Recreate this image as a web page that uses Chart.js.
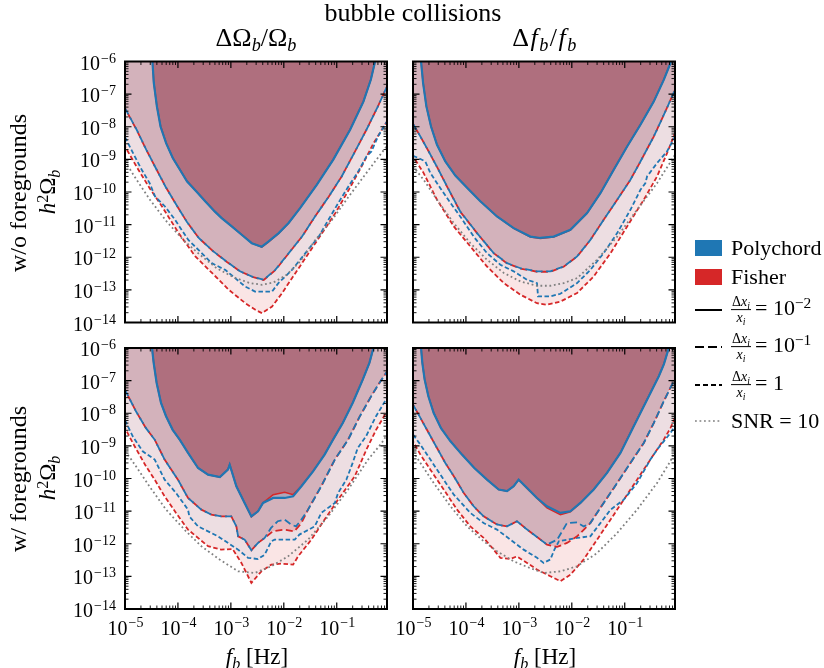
<!DOCTYPE html>
<html>
<head>
<meta charset="utf-8">
<script src="https://cdn.jsdelivr.net/npm/chart.js@4.4.1/dist/chart.umd.min.js"></script>
<style>
html,body{margin:0;padding:0;background:#fff;}
#fig{position:relative;width:824px;height:668px;overflow:hidden;background:#fff;font-family:"Liberation Serif","DejaVu Serif",serif;color:#000;}
#fig canvas{position:absolute;left:0;top:0;}
.lbl{position:absolute;white-space:nowrap;line-height:1;transform:translate(-50%,-50%);}
.rot{transform:translate(-50%,-50%) rotate(-90deg);}
.lft{position:absolute;white-space:nowrap;line-height:1;transform:translateY(-50%);}
.sb{font-size:70%;position:relative;top:0.3em;}
.sp{font-size:70%;position:relative;top:-0.45em;}
.frac{display:inline-block;vertical-align:middle;text-align:center;font-size:14px;line-height:1.1;margin-right:4px;}
.frac .num,.frac .den{display:block;padding:0 1px;}
.frac .den{border-top:1px solid #000;}
.patch{position:absolute;width:27px;height:16px;}
</style>
</head>
<body>
<div id="fig">
  <div class="lbl" style="left:413px;top:13px;font-size:26px">bubble collisions</div>
  <div class="lbl" style="left:256px;top:38px;font-size:26px">ΔΩ<span class="sb"><i>b</i></span>/Ω<span class="sb"><i>b</i></span></div>
  <div class="lbl" style="left:545px;top:38px;font-size:26px;letter-spacing:1.5px">Δ<i>f</i><span class="sb"><i>b</i></span>/<i>f</i><span class="sb"><i>b</i></span></div>
  <div class="lbl rot" style="left:18px;top:193px;font-size:24px">w/o foregrounds</div>
  <div class="lbl rot" style="left:47px;top:192px;font-size:23px"><i>h</i><span class="sp">2</span>Ω<span class="sb"><i>b</i></span></div>
  <div class="lbl rot" style="left:18px;top:479px;font-size:24px">w/ foregrounds</div>
  <div class="lbl rot" style="left:47px;top:478px;font-size:23px"><i>h</i><span class="sp">2</span>Ω<span class="sb"><i>b</i></span></div>
  <div class="lbl" style="left:257px;top:656px;font-size:23px"><i>f</i><span class="sb"><i>b</i></span> [Hz]</div>
  <div class="lbl" style="left:545px;top:656px;font-size:23px"><i>f</i><span class="sb"><i>b</i></span> [Hz]</div>

  <div class="patch" style="left:695px;top:240px;background:#1f77b4"></div>
  <div class="lft" style="left:731px;top:248px;font-size:22px">Polychord</div>
  <div class="patch" style="left:695px;top:269px;background:#d62728"></div>
  <div class="lft" style="left:731px;top:277px;font-size:22px">Fisher</div>
  <svg style="position:absolute;left:690px;top:300px" width="40" height="130">
    <line x1="5" y1="10" x2="32" y2="10" stroke="#000" stroke-width="2"/>
    <line x1="5" y1="47" x2="32" y2="47" stroke="#000" stroke-width="2" stroke-dasharray="9,4"/>
    <line x1="5" y1="85" x2="32" y2="85" stroke="#000" stroke-width="2" stroke-dasharray="5,3"/>
    <line x1="5" y1="121" x2="32" y2="121" stroke="#808080" stroke-width="1.7" stroke-dasharray="1.8,2.7"/>
  </svg>
  <div class="lft" style="left:731px;top:310px;font-size:22px"><span class="frac"><span class="num">Δ<i>x</i><span class="sb"><i>i</i></span></span><span class="den"><i>x</i><span class="sb"><i>i</i></span></span></span>= 10<span class="sp">−2</span></div>
  <div class="lft" style="left:731px;top:347px;font-size:22px"><span class="frac"><span class="num">Δ<i>x</i><span class="sb"><i>i</i></span></span><span class="den"><i>x</i><span class="sb"><i>i</i></span></span></span>= 10<span class="sp">−1</span></div>
  <div class="lft" style="left:731px;top:385px;font-size:22px"><span class="frac"><span class="num">Δ<i>x</i><span class="sb"><i>i</i></span></span><span class="den"><i>x</i><span class="sb"><i>i</i></span></span></span>= 1</div>
  <div class="lft" style="left:731px;top:421px;font-size:22px">SNR = 10</div>
</div>
<script>
// ---------------- axis / tick values ----------------
const xTickExps = [-5, -4, -3, -2, -1];
const yTickExps = [-14, -13, -12, -11, -10, -9, -8, -7, -6];
const xRange = [1e-5, 0.89];
const yRange = [1e-14, 1e-6];

// ---------------- top-left: w/o foregrounds, dOmega/Omega ----------------
const tlPoly3 = [[3.3e-5,1e-6],[3.5e-5,2.2e-7],[4.0e-5,4.2e-8],[4.7e-5,1.0e-8],[6.0e-5,3.1e-9],[8.0e-5,1.1e-9],[1.09e-4,4.8e-10],[1.49e-4,2.1e-10],[2.23e-4,1.04e-10],[3.3e-4,5.1e-11],[5.0e-4,2.5e-11],[6.7e-4,1.58e-11],[1.04e-3,8.8e-12],[1.6e-3,4.9e-12],[2.48e-3,2.7e-12],[3.83e-3,2.1e-12],[5.1e-3,3.0e-12],[8.0e-3,5.5e-12],[1.23e-2,1.12e-11],[2.03e-2,3.2e-11],[4.19e-2,1.66e-10],[8.6e-2,9.8e-10],[0.179,8.1e-9],[0.319,5.9e-8],[0.44,2.75e-7],[0.53,1e-6]];
const tlFish3 = [[3.3e-5,1e-6],[3.5e-5,2.3e-7],[4.0e-5,4.4e-8],[4.7e-5,1.05e-8],[6.0e-5,3.2e-9],[8.0e-5,1.1e-9],[1.09e-4,4.9e-10],[1.49e-4,2.15e-10],[2.23e-4,1.05e-10],[3.3e-4,5.2e-11],[5.0e-4,2.5e-11],[6.7e-4,1.6e-11],[1.04e-3,8.9e-12],[1.6e-3,4.9e-12],[2.48e-3,2.7e-12],[3.83e-3,2.05e-12],[5.1e-3,2.9e-12],[8.0e-3,5.4e-12],[1.23e-2,1.1e-11],[2.03e-2,3.2e-11],[4.19e-2,1.68e-10],[8.6e-2,1.0e-9],[0.179,8.3e-9],[0.319,6.0e-8],[0.44,2.8e-7],[0.53,1e-6]];
const tlPoly2 = [[1e-5,3.7e-8],[1.66e-5,8.1e-9],[2.53e-5,1.96e-9],[3.96e-5,4.8e-10],[5.8e-5,1.48e-10],[8.9e-5,4.6e-11],[1.46e-4,1.25e-11],[2.47e-4,3.9e-12],[4.67e-4,1.51e-12],[8.3e-4,7.4e-13],[1.49e-3,3.7e-13],[2.66e-3,2.46e-13],[4.17e-3,2.04e-13],[6.9e-3,4.1e-13],[1.24e-2,1.34e-12],[2.21e-2,4.3e-12],[3.89e-2,1.78e-11],[7.1e-2,7.3e-11],[0.124,3.0e-10],[0.222,1.75e-9],[0.364,8.1e-9],[0.60,4.2e-8],[0.89,1.71e-7]];
const tlFish2 = [[1e-5,3.7e-8],[1.66e-5,8.0e-9],[2.53e-5,1.95e-9],[3.96e-5,4.8e-10],[5.8e-5,1.48e-10],[8.9e-5,4.6e-11],[1.46e-4,1.25e-11],[2.47e-4,3.9e-12],[4.67e-4,1.5e-12],[8.3e-4,7.3e-13],[1.49e-3,3.7e-13],[2.66e-3,2.45e-13],[4.17e-3,2.0e-13],[6.9e-3,4.0e-13],[1.24e-2,1.33e-12],[2.21e-2,4.3e-12],[3.89e-2,1.78e-11],[7.1e-2,7.3e-11],[0.124,3.0e-10],[0.222,1.75e-9],[0.364,8.1e-9],[0.60,4.2e-8],[0.89,1.71e-7]];
const tlPoly1 = [[1e-5,4.8e-9],[1.42e-5,1.55e-9],[2.07e-5,4.8e-10],[2.92e-5,1.87e-10],[3.69e-5,7.3e-11],[5.7e-5,3.6e-11],[8.8e-5,1.41e-11],[1.57e-4,3.4e-12],[2.81e-4,1.34e-12],[4.35e-4,6.6e-13],[7.8e-4,4.1e-13],[1.2e-3,2.3e-13],[1.85e-3,1.27e-13],[2.86e-3,8.9e-14],[6.0e-3,8.9e-14],[7.9e-3,1.61e-13],[1.43e-2,4.1e-13],[2.56e-2,1.34e-12],[4.57e-2,4.3e-12],[6.97e-2,1.41e-11],[0.107,4.6e-11],[0.166,1.48e-10],[0.256,4.3e-10],[0.364,1.23e-9],[0.452,1.75e-9],[0.60,5.0e-9],[0.89,1.45e-8]];
const tlFish1 = [[1e-5,2.48e-9],[1.79e-5,4.8e-10],[2.92e-5,1.31e-10],[5.0e-5,3.6e-11],[1.03e-4,5.5e-12],[2.13e-4,1.06e-12],[4.4e-4,3.3e-13],[9.1e-4,1.01e-13],[1.88e-3,3.9e-14],[2.9e-3,2.45e-14],[3.88e-3,1.94e-14],[6.0e-3,3.1e-14],[9.3e-3,8.0e-14],[1.66e-2,3.3e-13],[2.96e-2,1.34e-12],[5.3e-2,5.5e-12],[9.4e-2,2.25e-11],[0.169,1.17e-10],[0.319,7.7e-10],[0.493,3.1e-9],[0.89,1.45e-8]];
const tlSnr = [[1e-5,8.6e-10],[1.66e-5,2.37e-10],[2.96e-5,5.8e-11],[6.1e-5,1.25e-11],[1.26e-4,3.4e-12],[2.61e-4,1.19e-12],[5.4e-4,4.6e-13],[1.11e-3,2.46e-13],[2.3e-3,1.61e-13],[3.88e-3,1.43e-13],[6.4e-3,1.69e-13],[1.14e-2,2.9e-13],[2.03e-2,7.4e-13],[3.95e-2,3.4e-12],[8.2e-2,1.41e-11],[0.169,7.3e-11],[0.403,4.8e-10],[0.89,2.6e-9]];

// ---------------- top-right: w/o foregrounds, df/f ----------------
const trPoly3 = [[1.42e-5,1e-6],[1.55e-5,2.2e-7],[1.79e-5,4.2e-8],[2.19e-5,1.02e-8],[2.84e-5,2.8e-9],[4.08e-5,8.6e-10],[6.3e-5,3.2e-10],[1.13e-4,1.2e-10],[1.87e-4,5.2e-11],[3.86e-4,1.78e-11],[7.98e-4,7.8e-12],[1.65e-3,4.3e-12],[2.55e-3,3.9e-12],[4.55e-3,4.3e-12],[9.4e-3,6.9e-12],[1.94e-2,2.25e-11],[3.47e-2,9.2e-11],[6.2e-2,4.8e-10],[0.111,2.48e-9],[0.198,1.15e-8],[0.353,5.9e-8],[0.546,2.74e-7],[0.752,1e-6]];
const trFish3 = [[1.42e-5,1e-6],[1.55e-5,2.3e-7],[1.79e-5,4.3e-8],[2.19e-5,1.04e-8],[2.84e-5,2.85e-9],[4.08e-5,8.7e-10],[6.3e-5,3.2e-10],[1.13e-4,1.2e-10],[1.87e-4,5.2e-11],[3.86e-4,1.78e-11],[7.98e-4,7.7e-12],[1.65e-3,4.2e-12],[2.55e-3,3.8e-12],[4.55e-3,4.2e-12],[9.4e-3,6.8e-12],[1.94e-2,2.25e-11],[3.47e-2,9.3e-11],[6.2e-2,4.9e-10],[0.111,2.5e-9],[0.198,1.17e-8],[0.353,6.0e-8],[0.546,2.8e-7],[0.752,1e-6]];
const trPoly2 = [[1e-5,1.23e-8],[1.38e-5,5.0e-9],[1.98e-5,1.75e-9],[2.92e-5,5.4e-10],[4.4e-5,1.48e-10],[7.8e-5,2.53e-11],[1.62e-4,5.5e-12],[3.34e-4,1.34e-12],[5.97e-4,6.6e-13],[1.07e-3,4.6e-13],[2.2e-3,3.7e-13],[3.94e-3,3.7e-13],[7.0e-3,5.2e-13],[1.26e-2,1.06e-12],[2.24e-2,3.4e-12],[4.0e-2,1.41e-11],[7.2e-2,5.8e-11],[0.128,2.37e-10],[0.198,8.6e-10],[0.353,5.0e-9],[0.586,2.94e-8],[0.89,1.36e-7]];
const trFish2 = [[1e-5,1.23e-8],[1.38e-5,5.0e-9],[1.98e-5,1.74e-9],[2.92e-5,5.4e-10],[4.4e-5,1.47e-10],[7.8e-5,2.5e-11],[1.62e-4,5.5e-12],[3.34e-4,1.33e-12],[5.97e-4,6.5e-13],[1.07e-3,4.5e-13],[2.2e-3,3.6e-13],[3.94e-3,3.6e-13],[7.0e-3,5.1e-13],[1.26e-2,1.05e-12],[2.24e-2,3.4e-12],[4.0e-2,1.41e-11],[7.2e-2,5.8e-11],[0.128,2.37e-10],[0.198,8.6e-10],[0.353,5.0e-9],[0.586,2.94e-8],[0.89,1.36e-7]];
const trPoly1 = [[1e-5,1.29e-9],[1.28e-5,1.09e-9],[1.71e-5,8.6e-10],[2.13e-5,3.8e-10],[3.29e-5,1.31e-10],[5.1e-5,4.6e-11],[7.8e-5,1.78e-11],[1.4e-4,4.3e-12],[2.5e-4,1.34e-12],[4.47e-4,5.9e-13],[7.98e-4,3.7e-13],[1.43e-3,2.04e-13],[2.2e-3,1.61e-13],[2.3e-3,6.3e-14],[3.94e-3,6.3e-14],[6.1e-3,7.6e-14],[1.26e-2,1.61e-13],[2.24e-2,4.1e-13],[4.0e-2,1.34e-12],[7.2e-2,5.5e-12],[0.128,2.85e-11],[0.198,1.17e-10],[0.246,1.87e-10],[0.264,3.0e-10],[0.408,7.7e-10],[0.63,1.75e-9],[0.89,5.0e-9]];
const trFish1 = [[1e-5,1.23e-9],[1.59e-5,3.8e-10],[2.84e-5,5.8e-11],[5.9e-5,8.8e-12],[1.21e-4,2.14e-12],[2.5e-4,5.2e-13],[5.2e-4,1.61e-13],[1.07e-3,7.1e-14],[2.2e-3,3.9e-14],[3.4e-3,3.5e-14],[6.1e-3,4.4e-14],[1.26e-2,8.0e-14],[2.59e-2,2.58e-13],[5.4e-2,1.34e-12],[0.111,8.8e-12],[0.229,5.8e-11],[0.408,3.0e-10],[0.63,1.55e-9],[0.89,6.4e-9]];
const trSnr = [[1e-5,6.1e-10],[1.59e-5,2.37e-10],[2.84e-5,5.8e-11],[5.9e-5,1.11e-11],[1.21e-4,2.71e-12],[2.5e-4,8.4e-13],[5.2e-4,3.3e-13],[1.07e-3,1.81e-13],[2.2e-3,1.34e-13],[3.94e-3,1.34e-13],[7.0e-3,1.61e-13],[1.26e-2,2.29e-13],[3.0e-2,8.4e-13],[7.2e-2,4.3e-12],[0.171,2.85e-11],[0.408,1.87e-10],[0.89,1.38e-9]];

// ---------------- bottom-left: w/ foregrounds, dOmega/Omega ----------------
const blPoly3 = [[3.24e-5,1e-6],[3.48e-5,3.5e-7],[3.96e-5,8.5e-8],[4.79e-5,2.07e-8],[5.96e-5,8.1e-9],[7.96e-5,3.1e-9],[1.08e-4,1.55e-9],[1.55e-4,6.1e-10],[2.4e-4,2.1e-10],[3.71e-4,1.31e-10],[6.2e-4,1.11e-10],[8.8e-4,1.87e-10],[9.5e-4,2.66e-10],[1.27e-3,5.8e-11],[1.82e-3,1.78e-11],[2.44e-3,6.9e-12],[3.26e-3,9.9e-12],[4.05e-3,1.78e-11],[6.3e-3,2.53e-11],[1.04e-2,2.53e-11],[1.5e-2,2.85e-11],[2.15e-2,5.8e-11],[3.57e-2,1.66e-10],[5.9e-2,5.4e-10],[8.5e-2,1.55e-9],[0.13,5.0e-9],[0.2,2.07e-8],[0.31,1.07e-7],[0.414,3.5e-7],[0.493,1e-6]];
const blFish3 = [[3.24e-5,1e-6],[3.48e-5,3.6e-7],[3.96e-5,8.7e-8],[4.79e-5,2.1e-8],[5.96e-5,8.2e-9],[7.96e-5,3.1e-9],[1.08e-4,1.55e-9],[1.55e-4,6.1e-10],[2.4e-4,2.1e-10],[3.71e-4,1.3e-10],[6.2e-4,1.1e-10],[8.8e-4,1.9e-10],[9.5e-4,2.7e-10],[1.27e-3,5.8e-11],[1.82e-3,1.75e-11],[2.44e-3,6.7e-12],[3.26e-3,1.0e-11],[4.05e-3,1.8e-11],[6.3e-3,3.2e-11],[1.04e-2,3.8e-11],[1.5e-2,3.2e-11],[2.15e-2,5.9e-11],[3.57e-2,1.68e-10],[5.9e-2,5.5e-10],[8.5e-2,1.57e-9],[0.13,5.1e-9],[0.2,2.1e-8],[0.31,1.08e-7],[0.414,3.5e-7],[0.493,1e-6]];
const blPoly2 = [[1e-5,5.2e-8],[1.61e-5,1.15e-8],[2.49e-5,3.5e-9],[3.64e-5,1.55e-9],[5.6e-5,3.8e-10],[1.0e-4,9.2e-11],[1.55e-4,2.53e-11],[2.77e-4,1.11e-11],[4.28e-4,7.8e-12],[6.6e-4,6.9e-12],[1.02e-3,6.9e-12],[1.27e-3,3.4e-12],[1.37e-3,1.69e-12],[1.82e-3,1.34e-12],[2.44e-3,6.3e-13],[3.26e-3,1.06e-12],[4.35e-3,1.51e-12],[5.7e-3,3.0e-12],[7.7e-3,4.9e-12],[1.03e-2,5.5e-12],[1.37e-2,3.9e-12],[1.7e-2,3.4e-12],[2.15e-2,5.5e-12],[2.87e-2,1.11e-11],[5.1e-2,5.8e-11],[9.2e-2,3.8e-10],[0.164,1.55e-9],[0.268,7.6e-9],[0.446,3.3e-8],[0.64,8.5e-8],[0.89,1.9e-7]];
const blFish2 = [[1e-5,5.2e-8],[1.61e-5,1.15e-8],[2.49e-5,3.5e-9],[3.64e-5,1.55e-9],[5.6e-5,3.8e-10],[1.0e-4,9.2e-11],[1.55e-4,2.53e-11],[2.77e-4,1.11e-11],[4.28e-4,7.8e-12],[6.6e-4,6.9e-12],[1.02e-3,6.9e-12],[1.27e-3,3.4e-12],[1.37e-3,1.69e-12],[1.82e-3,1.34e-12],[2.44e-3,6.3e-13],[3.26e-3,1.06e-12],[4.35e-3,1.51e-12],[6.2e-3,2.41e-12],[1.03e-2,2.71e-12],[1.58e-2,2.41e-12],[2.15e-2,4.3e-12],[2.87e-2,1.11e-11],[5.1e-2,5.8e-11],[9.2e-2,3.8e-10],[0.164,1.55e-9],[0.268,7.6e-9],[0.446,3.3e-8],[0.64,8.5e-8],[0.89,1.9e-7]];
const blPoly1 = [[1e-5,6.1e-9],[1.4e-5,1.96e-9],[2.16e-5,6.8e-10],[3.64e-5,3.8e-10],[5.6e-5,9.2e-11],[9.2e-5,3.6e-11],[1.55e-4,1.11e-11],[1.64e-4,6.9e-12],[2.4e-4,3.4e-12],[5.7e-4,1.69e-12],[1.37e-3,6.6e-13],[2.11e-3,3.7e-13],[3.26e-3,3.4e-13],[4.35e-3,4.6e-13],[5.8e-3,1.19e-12],[6.7e-3,1.34e-12],[1.61e-2,1.34e-12],[1.97e-2,1.91e-12],[3.84e-2,3.4e-12],[5.1e-2,8.8e-12],[9.2e-2,1.78e-11],[0.106,3.6e-11],[0.152,9.2e-11],[0.2,3.0e-10],[0.249,8.6e-10],[0.358,1.96e-9],[0.553,8.1e-9],[0.89,2.94e-8]];
const blFish1 = [[1e-5,3.5e-9],[1.52e-5,9.7e-10],[2.49e-5,2.37e-10],[3.64e-5,9.2e-11],[5.6e-5,2.85e-11],[9.2e-5,8.8e-12],[1.55e-4,2.71e-12],[3.71e-4,8.4e-13],[6.6e-4,6.6e-13],[1.08e-3,6.9e-13],[1.58e-3,2.58e-13],[2.44e-3,6.3e-14],[3.77e-3,1.43e-13],[5.8e-3,2.29e-13],[9.0e-3,2.46e-13],[1.5e-2,2.29e-13],[1.86e-2,4.1e-13],[3.32e-2,1.34e-12],[5.9e-2,5.5e-12],[0.106,2.25e-11],[0.219,1.17e-10],[0.364,7.7e-10],[0.553,3.1e-9],[0.89,1.15e-8]];
const blSnr = [[1e-5,6.8e-10],[1.32e-5,3.8e-10],[2.88e-5,5.8e-11],[5.96e-5,1.11e-11],[1.42e-4,2.41e-12],[2.77e-4,8.4e-13],[6.1e-4,3.3e-13],[1.37e-3,1.43e-13],[2.82e-3,1.27e-13],[5.8e-3,2.04e-13],[1.2e-2,4.1e-13],[2.87e-2,1.34e-12],[6.9e-2,6.9e-12],[0.164,4.6e-11],[0.391,3.8e-10],[0.71,1.23e-9],[0.89,2.21e-9]];

// ---------------- bottom-right: w/ foregrounds, df/f ----------------
const brPoly3 = [[1.42e-5,1e-6],[1.5e-5,3.5e-7],[1.66e-5,1.07e-7],[1.95e-5,3.3e-8],[2.46e-5,1.02e-8],[3.38e-5,3.5e-9],[5.1e-5,1.38e-9],[8.4e-5,5.4e-10],[1.44e-4,2.1e-10],[2.5e-4,9.2e-11],[4.16e-4,4.6e-11],[5.97e-4,4.1e-11],[7.98e-4,5.8e-11],[9.9e-4,9.2e-11],[1.43e-3,5.1e-11],[2.2e-3,2.53e-11],[3.4e-3,1.41e-11],[6.1e-3,8.8e-12],[9.4e-3,9.9e-12],[1.45e-2,1.78e-11],[2.59e-2,4.6e-11],[4.63e-2,1.48e-10],[8.3e-2,6.1e-10],[0.148,4.0e-9],[0.264,2.61e-8],[0.44,1.36e-7],[0.55,3.2e-7],[0.68,1e-6]];
const brFish3 = [[1.42e-5,1e-6],[1.5e-5,3.6e-7],[1.66e-5,1.1e-7],[1.95e-5,3.4e-8],[2.46e-5,1.04e-8],[3.38e-5,3.5e-9],[5.1e-5,1.4e-9],[8.4e-5,5.5e-10],[1.44e-4,2.1e-10],[2.5e-4,9.2e-11],[4.16e-4,4.6e-11],[5.97e-4,4.1e-11],[7.98e-4,5.8e-11],[9.9e-4,9.2e-11],[1.43e-3,5.0e-11],[2.2e-3,2.5e-11],[3.4e-3,1.25e-11],[6.1e-3,7.8e-12],[9.4e-3,9.6e-12],[1.45e-2,1.75e-11],[2.59e-2,4.6e-11],[4.63e-2,1.5e-10],[8.3e-2,6.2e-10],[0.148,4.1e-9],[0.264,2.65e-8],[0.44,1.38e-7],[0.55,3.3e-7],[0.68,1e-6]];
const brPoly2 = [[1e-5,1.84e-8],[1.38e-5,7.2e-9],[1.98e-5,2.48e-9],[2.84e-5,8.6e-10],[4.08e-5,3.0e-10],[5.9e-5,1.17e-10],[9.1e-5,3.6e-11],[1.4e-4,1.41e-11],[2.16e-4,6.9e-12],[3.86e-4,3.9e-12],[5.97e-4,3.4e-12],[9.2e-4,4.9e-12],[1.33e-3,3.0e-12],[1.91e-3,1.91e-12],[3.4e-3,9.4e-13],[5.3e-3,1.34e-12],[8.1e-3,4.3e-12],[1.26e-2,4.5e-12],[1.68e-2,3.4e-12],[2.24e-2,4.3e-12],[4.0e-2,1.78e-11],[7.2e-2,7.3e-11],[0.128,3.0e-10],[0.229,1.23e-9],[0.353,5.0e-9],[0.546,2.32e-8],[0.752,6.7e-8],[0.89,1.07e-7]];
const brFish2 = [[1e-5,1.84e-8],[1.38e-5,7.2e-9],[1.98e-5,2.48e-9],[2.84e-5,8.6e-10],[4.08e-5,3.0e-10],[5.9e-5,1.17e-10],[9.1e-5,3.6e-11],[1.4e-4,1.41e-11],[2.16e-4,6.9e-12],[3.86e-4,3.9e-12],[5.97e-4,3.4e-12],[9.2e-4,4.9e-12],[1.33e-3,3.0e-12],[1.91e-3,1.91e-12],[3.4e-3,9.4e-13],[5.3e-3,8.0e-13],[8.1e-3,1.06e-12],[1.26e-2,1.69e-12],[2.24e-2,4.3e-12],[4.0e-2,1.78e-11],[7.2e-2,7.3e-11],[0.128,3.0e-10],[0.229,1.23e-9],[0.353,5.0e-9],[0.546,2.32e-8],[0.752,6.7e-8],[0.89,1.07e-7]];
const brPoly1 = [[1e-5,2.21e-9],[1.38e-5,1.09e-9],[2.13e-5,3.8e-10],[3.8e-5,9.2e-11],[5.9e-5,3.2e-11],[1.21e-4,8.8e-12],[2.16e-4,4.3e-12],[3.86e-4,2.71e-12],[6.9e-4,1.34e-12],[1.23e-3,6.6e-13],[2.2e-3,3.7e-13],[2.94e-3,2.58e-13],[3.94e-3,3.3e-13],[4.69e-3,6.6e-13],[5.7e-3,1.19e-12],[1.26e-2,1.51e-12],[2.24e-2,1.69e-12],[3.47e-2,4.3e-12],[5.4e-2,1.11e-11],[9.6e-2,2.25e-11],[0.171,7.3e-11],[0.305,3.8e-10],[0.408,7.7e-10],[0.546,1.38e-9],[0.73,2.48e-9],[0.89,4.0e-9]];
const brFish1 = [[1e-5,1.38e-9],[1.38e-5,5.4e-10],[2.13e-5,1.87e-10],[3.8e-5,4.6e-11],[6.8e-5,1.11e-11],[1.21e-4,3.4e-12],[2.16e-4,1.51e-12],[3.34e-4,6.6e-13],[4.47e-4,3.7e-13],[6.9e-4,3.4e-13],[9.2e-4,4.1e-13],[1.43e-3,2.58e-13],[2.2e-3,1.61e-13],[3.94e-3,1.01e-13],[6.1e-3,7.1e-14],[9.4e-3,1.13e-13],[1.68e-2,3.3e-13],[3.0e-2,1.34e-12],[5.4e-2,5.5e-12],[9.6e-2,2.25e-11],[0.171,9.2e-11],[0.305,3.8e-10],[0.546,1.55e-9],[0.73,3.5e-9],[0.89,7.2e-9]];
const brSnr = [[1e-5,6.8e-10],[1.38e-5,3.0e-10],[2.46e-5,7.3e-11],[5.1e-5,1.41e-11],[1.05e-4,3.4e-12],[2.16e-4,1.19e-12],[3.86e-4,5.9e-13],[7.98e-4,2.9e-13],[1.43e-3,1.95e-13],[2.94e-3,1.27e-13],[6.1e-3,1.43e-13],[1.26e-2,2.04e-13],[3.0e-2,5.2e-13],[7.2e-2,2.14e-12],[0.171,1.11e-11],[0.408,7.3e-11],[0.73,3.4e-10],[0.89,6.8e-10]];

// ---------------- styling ----------------
const BLUE = '#1f77b4', RED = '#d62728', GRAY = '#808080';
const FONT = '"Liberation Serif","DejaVu Serif",serif';

const panels = [
  {area:[125, 61.5, 387, 322.5], showX:false, showY:true,  d:[tlSnr, tlPoly3, tlFish3, tlPoly2, tlFish2, tlPoly1, tlFish1]},
  {area:[413, 61.5, 675, 322.5], showX:false, showY:false, d:[trSnr, trPoly3, trFish3, trPoly2, trFish2, trPoly1, trFish1]},
  {area:[125, 348, 387, 609],    showX:true,  showY:true,  d:[blSnr, blPoly3, blFish3, blPoly2, blFish2, blPoly1, blFish1]},
  {area:[413, 348, 675, 609],    showX:true,  showY:false, d:[brSnr, brPoly3, brFish3, brPoly2, brFish2, brPoly1, brFish1]}
];

function pts(arr){ return arr.map(p => ({x:p[0], y:p[1]})); }

const framePlugin = {
  id: 'frame',
  afterDraw(chart) {
    const o = chart.options.plugins.frame;
    const ctx = chart.ctx, a = chart.chartArea;
    const xs = chart.scales.x, ys = chart.scales.y;
    ctx.save();
    ctx.strokeStyle = '#000';
    const drawX = (v, len, w) => {
      const px = xs.getPixelForValue(v);
      ctx.lineWidth = w;
      ctx.beginPath();
      ctx.moveTo(px, a.bottom); ctx.lineTo(px, a.bottom - len);
      ctx.moveTo(px, a.top); ctx.lineTo(px, a.top + len);
      ctx.stroke();
    };
    const drawY = (v, len, w) => {
      const py = ys.getPixelForValue(v);
      ctx.lineWidth = w;
      ctx.beginPath();
      ctx.moveTo(a.left, py); ctx.lineTo(a.left + len, py);
      ctx.moveTo(a.right, py); ctx.lineTo(a.right - len, py);
      ctx.stroke();
    };
    for (let e = -5; e <= 0; e++) {
      for (let k = 2; k <= 9; k++) {
        const v = k * Math.pow(10, e);
        if (v > xRange[0] && v < xRange[1]) drawX(v, 3.5, 0.9);
      }
    }
    xTickExps.forEach(e => drawX(Math.pow(10, e), 6.5, 1.2));
    for (let e = -14; e < -6; e++) {
      for (let k = 2; k <= 9; k++) drawY(k * Math.pow(10, e), 3.5, 0.9);
    }
    yTickExps.forEach(e => drawY(Math.pow(10, e), 6.5, 1.2));
    ctx.lineWidth = 2;
    ctx.strokeRect(a.left, a.top, a.right - a.left, a.bottom - a.top);
    ctx.fillStyle = '#000';
    ctx.textBaseline = 'alphabetic';
    const baseFont = '20px ' + FONT, supFont = '14px ' + FONT;
    if (o.showX) {
      xTickExps.forEach(e => {
        const px = xs.getPixelForValue(Math.pow(10, e));
        const sup = '\u2212' + Math.abs(e);
        ctx.font = baseFont; const wb = ctx.measureText('10').width;
        ctx.font = supFont; const ws = ctx.measureText(sup).width;
        const x0 = px - (wb + ws) / 2;
        ctx.textAlign = 'left';
        ctx.font = baseFont; ctx.fillText('10', x0, a.bottom + 26);
        ctx.font = supFont; ctx.fillText(sup, x0 + wb + 1, a.bottom + 18);
      });
    }
    if (o.showY) {
      yTickExps.forEach(e => {
        const py = ys.getPixelForValue(Math.pow(10, e));
        const sup = '\u2212' + Math.abs(e);
        const xr = a.left - 9;
        ctx.textAlign = 'right';
        ctx.font = supFont; const ws = ctx.measureText(sup).width;
        ctx.fillText(sup, xr, py + 1);
        ctx.font = baseFont; ctx.fillText('10', xr - ws - 1, py + 8);
      });
    }
    ctx.restore();
  }
};

const fig = document.getElementById('fig');
panels.forEach(p => {
  const cv = document.createElement('canvas');
  cv.width = 824; cv.height = 668;
  fig.insertBefore(cv, fig.firstChild);
  const [l, t, r, b] = p.area;
  const [snr, p3, f3, p2, f2, p1, f1] = p.d;
  const datasets = [
    {data: pts(snr), borderColor: GRAY, borderWidth: 1.8, borderDash: [1.8, 2.7], fill: false},
    {data: pts(p3), borderColor: BLUE, borderWidth: 2.2, fill: 'end', backgroundColor: 'rgba(31,119,180,0.2)'},
    {data: pts(f3), borderColor: RED, borderWidth: 1.6, fill: 'end', backgroundColor: 'rgba(214,39,40,0.5)'},
    {data: pts(p2), borderColor: BLUE, borderWidth: 1.8, borderDash: [7, 3.5], fill: 'end', backgroundColor: 'rgba(31,119,180,0.1)'},
    {data: pts(f2), borderColor: RED, borderWidth: 1.8, borderDash: [7, 3.5], borderDashOffset: 5, fill: 'end', backgroundColor: 'rgba(214,39,40,0.2)'},
    {data: pts(p1), borderColor: BLUE, borderWidth: 1.8, borderDash: [4.5, 2.5], fill: 'end', backgroundColor: 'rgba(31,119,180,0.06)'},
    {data: pts(f1), borderColor: RED, borderWidth: 1.8, borderDash: [4.5, 2.5], borderDashOffset: 3, fill: 'end', backgroundColor: 'rgba(214,39,40,0.12)'}
  ];
  new Chart(cv, {
    type: 'line',
    data: {datasets},
    options: {
      responsive: false, animation: false, devicePixelRatio: 1, events: [],
      layout: {padding: {left: l, top: t, right: 824 - r, bottom: 668 - b}},
      elements: {point: {radius: 0}, line: {tension: 0}},
      plugins: {legend: {display: false}, tooltip: {enabled: false}, filler: {drawTime: 'beforeDatasetsDraw'},
                frame: {showX: p.showX, showY: p.showY}},
      scales: {
        x: {type: 'logarithmic', min: xRange[0], max: xRange[1], display: false},
        y: {type: 'logarithmic', min: yRange[0], max: yRange[1], display: false}
      }
    },
    plugins: [framePlugin]
  });
});
</script>
</body>
</html>
